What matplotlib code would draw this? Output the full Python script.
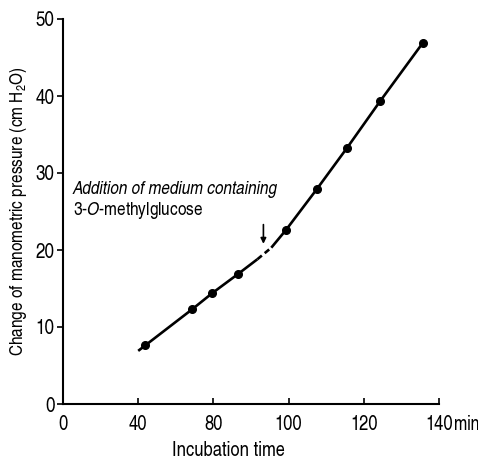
import matplotlib
matplotlib.use("Agg")
import matplotlib.pyplot as plt
import numpy as np

FONT = "TeX Gyre Heros Cn"
plt.rcParams['font.family'] = [FONT, 'DejaVu Sans']
plt.rcParams['mathtext.fontset'] = 'custom'
plt.rcParams['mathtext.rm'] = FONT
plt.rcParams['mathtext.it'] = FONT + ':italic'

# data (minutes, cm H2O)
point_x = [43.7, 68.7, 79.4, 86.6, 99.3, 107.5, 115.6, 124.3, 135.7]
point_y = [7.6, 12.3, 14.4, 16.9, 22.6, 27.9, 33.3, 39.3, 46.9]
lower_x = [40, 43.7, 68.7, 79.4, 86.6, 91.7]
lower_y = [6.9, 7.6, 12.3, 14.4, 16.9, 18.8]
gap_x = [91.7, 95.4]
gap_y = [18.8, 20.3]
upper_x = [95.4, 99.3, 107.5, 115.6, 124.3, 135.7]
upper_y = [20.3, 22.6, 27.9, 33.3, 39.3, 46.9]
xticks = [0, 40, 80, 100, 120, 140]
xticklabels = ['0', '40', '80', '100', '120', '140']
yticks = [0, 10, 20, 30, 40, 50]
arrow_x = 93.3
arrow_y = (23.3, 20.8)

def fwd(x):
    x = np.asarray(x, dtype=float)
    return np.where(x <= 80, x / 40.0, 2 + (x - 80) / 20.0)

def inv(u):
    u = np.asarray(u, dtype=float)
    return np.where(u <= 2, u * 40.0, 80 + (u - 2) * 20.0)

fig = plt.figure(figsize=(4.78, 4.61), dpi=100)
ax = fig.add_axes([63/478, 1-404/461, (439-63)/478, (404-19)/461])
ax.set_xscale('function', functions=(fwd, inv))
ax.set_xlim(0, 140)
ax.set_ylim(0, 50)

ax.plot(lower_x, lower_y, color='black', lw=1.9, solid_capstyle='butt')
ax.plot(gap_x, gap_y, color='black', lw=1.9, ls=(0, (2.2, 1.4)))
ax.plot(upper_x, upper_y, color='black', lw=1.9, solid_capstyle='butt')
ax.plot(point_x, point_y, 'o', color='black', ms=5.5)

ax.annotate('', xy=(arrow_x, arrow_y[1]), xytext=(arrow_x, arrow_y[0]),
            arrowprops=dict(arrowstyle='-|>', color='black', lw=1.2,
                            mutation_scale=8, shrinkA=0, shrinkB=0))

ax.text(5.3, 27.3, 'Addition of medium containing', style='italic',
        fontsize=13.5, va='baseline', ha='left')
ax.text(5.3, 24.5, r'3-$\mathit{O}$-methylglucose',
        fontsize=13.5, va='baseline', ha='left')

ax.spines['top'].set_visible(False)
ax.spines['right'].set_visible(False)
for s in ('left', 'bottom'):
    ax.spines[s].set_linewidth(1.5)

ax.set_xticks(xticks)
ax.set_xticklabels(xticklabels)
ax.set_yticks(yticks)
ax.tick_params(axis='x', direction='in', length=4, width=1.2, labelsize=14.5, pad=8)
ax.tick_params(axis='y', direction='out', length=4, width=1.2, labelsize=15, pad=2)
ax.xaxis.set_minor_locator(matplotlib.ticker.NullLocator())

ax.annotate('min', xy=(140, 0), xycoords=('data', 'axes fraction'),
            xytext=(10.8, -8), textcoords='offset points',
            ha='left', va='top', fontsize=14)

ax.set_xlabel('Incubation time', fontsize=14.5, labelpad=5, x=0.44)
ax.set_ylabel(r'Change of manometric pressure (cm H$_2$O)', fontsize=13.5, labelpad=5)

fig.savefig('out.png', dpi=100)
